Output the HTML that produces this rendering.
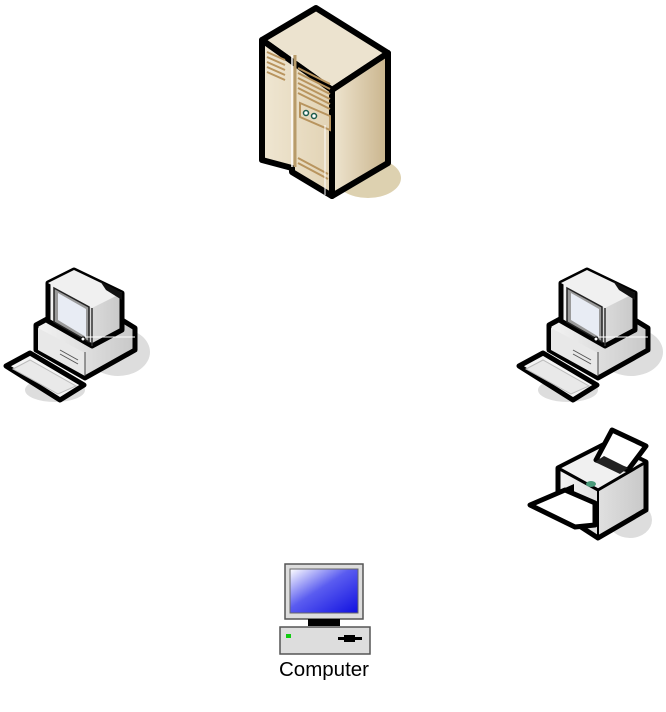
<!DOCTYPE html>
<html><head><meta charset="utf-8"><style>
html,body{margin:0;padding:0;background:#fff;width:666px;height:712px;overflow:hidden}
svg{display:block}
</style></head><body>
<svg width="666" height="712" viewBox="0 0 666 712" xmlns="http://www.w3.org/2000/svg">
<defs>
<linearGradient id="sf" x1="0" y1="0" x2="1" y2="0"><stop offset="0" stop-color="#efe6d2"/><stop offset="1" stop-color="#e2d3b4"/></linearGradient>
<linearGradient id="sr" x1="0" y1="0" x2="1" y2="0"><stop offset="0" stop-color="#efe5d0"/><stop offset="1" stop-color="#c9b48c"/></linearGradient>
<linearGradient id="scr" x1="0" y1="0" x2="1" y2="1"><stop offset="0" stop-color="#ffffff"/><stop offset="0.45" stop-color="#5a5cf0"/><stop offset="1" stop-color="#1010e0"/></linearGradient>
<linearGradient id="gr" x1="0" y1="0" x2="1" y2="0"><stop offset="0" stop-color="#f4f4f4"/><stop offset="1" stop-color="#c8c8c8"/></linearGradient>
<g id="pc">
  <ellipse cx="118" cy="352" rx="32" ry="24" fill="#ddd"/>
  <ellipse cx="55" cy="390" rx="30" ry="12" fill="#ddd"/>
  <polygon points="36,325 86,298 135,328 135,350 85,378 36,350" fill="url(#gr)" stroke="#000" stroke-width="5" stroke-linejoin="round"/>
  <polygon points="38,328 85,353 85,376 38,350" fill="#e8e8e8"/>
  <line x1="85" y1="352" x2="85" y2="376" stroke="#444" stroke-width="1"/>
  <g stroke="#555" stroke-width="1"><line x1="60" y1="350" x2="78" y2="360"/><line x1="60" y1="354" x2="78" y2="364"/></g>
  <polygon points="48,283 74,270 122,293 122,330 92,346 48,321" fill="url(#gr)" stroke="#000" stroke-width="5" stroke-linejoin="round"/>
  <polygon points="48,283 74,270 122,293 92,308" fill="#f0f0f0"/>
  <polygon points="100,281 122,293 122,300 106,290" fill="#111"/>
  <line x1="92" y1="308" x2="92" y2="346" stroke="#333" stroke-width="1.5"/>
  <polygon points="54,288 89,307 89,342 54,322" fill="#9a9a9a" stroke="#222" stroke-width="1.5"/>
  <polygon points="58,293 86,309 86,337 58,320" fill="#e8ecf4"/>
  <circle cx="83" cy="339" r="2" fill="#fff" stroke="#000"/>
  <line x1="85" y1="337" x2="135" y2="337" stroke="#fff" stroke-width="1"/>
  <polygon points="6,366 30,353 84,385 60,400" fill="#f4f4f4" stroke="#000" stroke-width="5" stroke-linejoin="round"/>
  <polygon points="13,369 30,360 76,386 58,394" fill="#e9e9e9" stroke="#bbb" stroke-width="1"/>
</g>
</defs>
<ellipse cx="368" cy="178" rx="33" ry="20" fill="#ddd1b0"/>
<polygon points="316,8 388,53 332,90 262,40" fill="#ece3cf" stroke="#000" stroke-width="6" stroke-linejoin="round"/>
<polygon points="262,40 332,90 332,196 292,172 292,168 262,160" fill="url(#sf)" stroke="#000" stroke-width="6" stroke-linejoin="round"/>
<polygon points="332,90 388,53 388,163 332,196" fill="url(#sr)" stroke="#000" stroke-width="6" stroke-linejoin="round"/>
<line x1="295" y1="55" x2="295" y2="167" stroke="#b89b6a" stroke-width="3"/>
<line x1="292" y1="55" x2="292" y2="167" stroke="#fff" stroke-width="1.5"/>
<g stroke="#b8945e" stroke-width="2">
<line x1="267" y1="52" x2="285" y2="60"/><line x1="267" y1="57" x2="285" y2="65"/><line x1="267" y1="62" x2="285" y2="70"/><line x1="267" y1="67" x2="285" y2="75"/><line x1="267" y1="72" x2="285" y2="80"/>
<line x1="298" y1="68" x2="330" y2="84"/><line x1="298" y1="73" x2="330" y2="89"/><line x1="298" y1="78" x2="330" y2="94"/><line x1="298" y1="83" x2="330" y2="99"/><line x1="298" y1="88" x2="330" y2="104"/><line x1="298" y1="93" x2="330" y2="109"/>
<line x1="298" y1="158" x2="328" y2="174"/><line x1="298" y1="163" x2="328" y2="179"/>
</g>
<polygon points="300,103 330,116 330,130 300,117" fill="none" stroke="#b8945e" stroke-width="2"/>
<circle cx="306" cy="113" r="2.5" fill="#fff" stroke="#1a5a4a" stroke-width="1.5"/>
<circle cx="314" cy="116" r="2.5" fill="#fff" stroke="#1a5a4a" stroke-width="1.5"/>
<line x1="325" y1="125" x2="325" y2="195" stroke="#fff" stroke-width="1"/>
<use href="#pc"/>
<use href="#pc" x="513"/>
<ellipse cx="630" cy="520" rx="22" ry="18" fill="#ddd"/>
<polygon points="558,468 607,443 646,462 646,510 598,538 558,512" fill="url(#gr)" stroke="#000" stroke-width="5" stroke-linejoin="round"/>
<polygon points="558,468 598,490 646,462 607,443" fill="#f0f0f0" stroke="#000" stroke-width="3" stroke-linejoin="round"/>
<line x1="598" y1="490" x2="598" y2="538" stroke="#000" stroke-width="2"/>
<polygon points="596,460 612,430 646,446 628,470" fill="#fff" stroke="#000" stroke-width="5" stroke-linejoin="round"/>
<polygon points="595,462 620,474 628,468 604,456" fill="#222"/>
<ellipse cx="591" cy="484" rx="5" ry="3" fill="#4a9a7a"/>
<polygon points="530,505 565,490 595,503 595,525 575,527" fill="#fff" stroke="#000" stroke-width="5" stroke-linejoin="round"/>
<polygon points="565,488 574,484 574,492" fill="#000"/>
<rect x="285" y="564" width="78" height="55" fill="#ddd" stroke="#555" stroke-width="1.5"/>
<rect x="290" y="569" width="68" height="44" fill="url(#scr)" stroke="#666" stroke-width="1"/>
<rect x="308" y="619" width="32" height="7" fill="#000"/>
<rect x="280" y="627" width="90" height="27" fill="#ddd" stroke="#555" stroke-width="1.5"/>
<rect x="286" y="634" width="5" height="4" fill="#1c1"/>
<rect x="338" y="637" width="24" height="3" fill="#000"/>
<rect x="344" y="635" width="11" height="7" fill="#000"/>
<text x="324" y="676" text-anchor="middle" font-family="Liberation Sans, sans-serif" font-size="20.5" fill="#000">Computer</text>
</svg>
</body></html>
